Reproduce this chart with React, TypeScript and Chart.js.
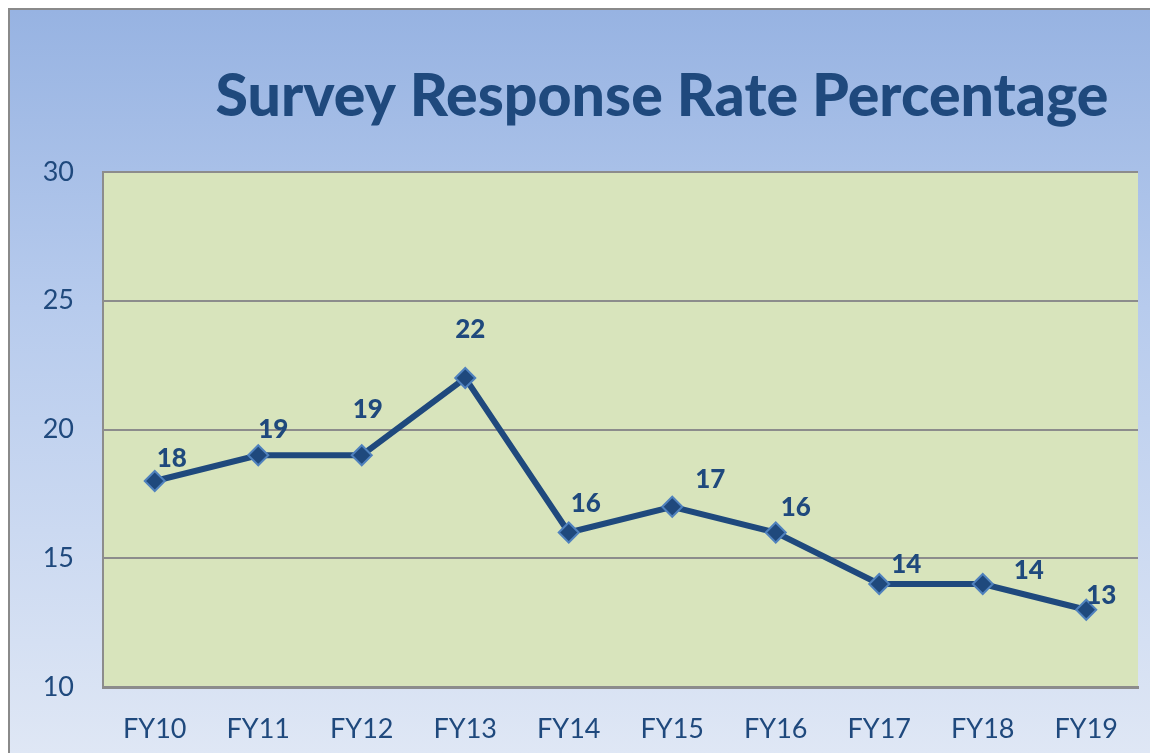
import React, { useEffect, useRef } from "react";
import { Chart, registerables } from "chart.js";

Chart.register(...registerables);

const categories = ["FY10", "FY11", "FY12", "FY13", "FY14", "FY15", "FY16", "FY17", "FY18", "FY19"];
const responseRate = [18, 19, 19, 22, 16, 17, 16, 14, 14, 13];
const yTicks = [10, 15, 20, 25, 30];
const titleText = "Survey Response Rate Percentage";
// label offsets relative to each point (styling)
const labelDx = [17, 15, 6, 5, 17, 38, 20, 27, 46, 15];
const labelDy = [-22, -26, -46, -48, -29, -27, -25, -19, -13, -14];

const DARK = "#1f497d";
const FONT = "Lato, 'Open Sans', sans-serif";

export default function App() {
  const ref = useRef<HTMLCanvasElement | null>(null);
  useEffect(() => {
    if (!ref.current) return;
    const plotBg = {
      id: "plotBg",
      beforeDraw(chart: any) {
        const { ctx, chartArea: a } = chart;
        ctx.save();
        ctx.fillStyle = "#d8e4bc";
        ctx.fillRect(a.left, a.top, a.right - a.left, a.bottom - a.top);
        ctx.restore();
      },
      afterDraw(chart: any) {
        const { ctx } = chart;
        ctx.save();
        ctx.fillStyle = DARK;
        ctx.font = `900 59px ${FONT}`;
        ctx.textAlign = "center";
        ctx.textBaseline = "alphabetic";
        ctx.fillText(titleText, 652, 106);
        const meta = chart.getDatasetMeta(0);
        ctx.font = `900 26px ${FONT}`;
        ctx.textAlign = "center";
        ctx.textBaseline = "middle";
        meta.data.forEach((el: any, i: number) => {
          ctx.fillText(String(responseRate[i]), el.x + labelDx[i], el.y + labelDy[i]);
        });
        ctx.restore();
      },
    };
    const chart = new Chart(ref.current, {
      type: "line",
      data: {
        labels: categories,
        datasets: [
          {
            data: responseRate,
            borderColor: DARK,
            borderWidth: 6,
            pointStyle: "rectRot",
            pointRadius: 10,
            pointBackgroundColor: DARK,
            pointBorderColor: "#4f81bd",
            pointBorderWidth: 2,
            tension: 0,
          },
        ],
      },
      options: {
        responsive: false,
        animation: false,
        layout: { padding: { top: 162, right: 20, left: 0, bottom: 0 } },
        plugins: { legend: { display: false }, tooltip: { enabled: false }, title: { display: false } },
        scales: {
          x: {
            offset: true,
            grid: { display: false, drawTicks: false },
            border: { display: true, color: "#8c8c8c", width: 3 },
            ticks: { color: DARK, font: { family: FONT, size: 27 }, padding: 26 },
            afterFit(s: any) { s.height = 66; },
          },
          y: {
            min: 10,
            max: 30,
            afterBuildTicks(s: any) { s.ticks = yTicks.map((v) => ({ value: v })); },
            grid: { color: "#8c8c8c", lineWidth: 2, drawTicks: false },
            border: { display: true, color: "#8c8c8c", width: 2 },
            ticks: { color: DARK, font: { family: FONT, size: 27 }, padding: 29 },
            afterFit(s: any) { s.width = 93; },
          },
        },
      },
      plugins: [plotBg],
    });
    return () => chart.destroy();
  }, []);
  return (
    <div
      style={{
        width: 1150,
        height: 745,
        boxSizing: "border-box",
        borderLeft: "2px solid #8a8a8a",
        borderTop: "2px solid #8a8a8a",
        background: "linear-gradient(to bottom, #97b3e2 0%, #b7cbed 40%, #dfe7f5 100%)",
        overflow: "hidden",
      }}
    >
      <canvas ref={ref} width={1148} height={743} style={{ display: "block" }} />
    </div>
  );
}
